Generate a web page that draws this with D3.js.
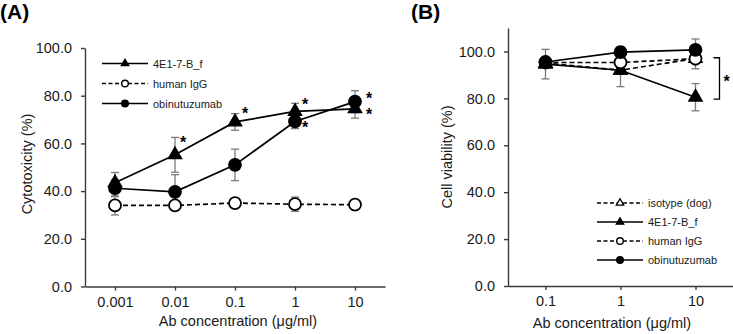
<!DOCTYPE html>
<html>
<head>
<meta charset="utf-8">
<script src="https://cdn.jsdelivr.net/npm/d3@7"></script>
<style>
  html, body { margin: 0; padding: 0; background: #fff; }
  svg { display: block; font-family: "Liberation Sans", Arial, sans-serif; }
</style>
</head>
<body>
<div id="chart"></div>
<script>
// ---------- data: panel A (cytotoxicity) ----------
const concA = ["0.001", "0.01", "0.1", "1", "10"];
const a4E1Mean = [43.5, 55.2, 69.0, 73.4, 74.5];
const a4E1Sd = [4.3, 7.3, 3.5, 3.4, 3.9];
const aHuIgGMean = [34.0, 34.0, 35.0, 34.5, 34.3];
const aHuIgGSd = [4.0, 1.0, 0.8, 3.0, 1.0];
const aObiMean = [41.2, 39.7, 51.0, 69.2, 77.5];
const aObiSd = [3.5, 7.2, 6.6, 3.0, 4.6];
const yTicksA = [0, 20, 40, 60, 80, 100];

// ---------- data: panel B (cell viability) ----------
const concB = ["0.1", "1", "10"];
const bIsoMean = [95.0, 92.0, 97.0];
const bIsoSd = [1.5, 1.5, 1.5];
const b4E1Mean = [94.6, 92.0, 80.5];
const b4E1Sd = [6.3, 7.0, 5.8];
const bHuIgGMean = [95.3, 95.3, 96.9];
const bHuIgGSd = [1.0, 1.2, 4.3];
const bObiMean = [95.5, 99.7, 100.7];
const bObiSd = [1.2, 2.4, 4.6];
const yTicksB = [0, 20, 40, 60, 80, 100];

// significance stars in panel A: series, concentration, pixel nudge
const starsA = [
  { series: "4E1-7-B_f", conc: "0.01", dx: 8, dy: -16 },
  { series: "4E1-7-B_f", conc: "0.1", dx: 10, dy: -12 },
  { series: "4E1-7-B_f", conc: "1", dx: 10, dy: -10 },
  { series: "obinutuzumab", conc: "1", dx: 10, dy: 3 },
  { series: "obinutuzumab", conc: "10", dx: 14, dy: -7 },
  { series: "4E1-7-B_f", conc: "10", dx: 14, dy: 2 }
];

const W = 733, H = 334;
const svg = d3.select("#chart").append("svg")
  .attr("width", W).attr("height", H);

function makeSeries(name, conc, mean, sd, marker, dashed) {
  return {
    name, marker, dashed,
    values: conc.map((c, i) => ({ conc: c, mean: mean[i], sd: sd[i] }))
  };
}

const seriesA = [
  makeSeries("4E1-7-B_f", concA, a4E1Mean, a4E1Sd, "triFilled", false),
  makeSeries("human IgG", concA, aHuIgGMean, aHuIgGSd, "circOpen", true),
  makeSeries("obinutuzumab", concA, aObiMean, aObiSd, "circFilled", false)
];

const seriesB = [
  makeSeries("isotype (dog)", concB, bIsoMean, bIsoSd, "triOpen", true),
  makeSeries("4E1-7-B_f", concB, b4E1Mean, b4E1Sd, "triFilled", false),
  makeSeries("human IgG", concB, bHuIgGMean, bHuIgGSd, "circOpen", true),
  makeSeries("obinutuzumab", concB, bObiMean, bObiSd, "circFilled", false)
];

// draw a marker into a group
function drawMarker(g, type, cx, cy, big) {
  const tri = d3.symbol().type(d3.symbolTriangle).size(big ? 78 : 24);
  const r = big ? 6 : 3.3;
  if (type.startsWith("tri")) {
    g.append("path")
      .attr("d", tri())
      .attr("transform", `translate(${cx},${cy})`)
      .attr("fill", type === "triOpen" ? "#fff" : "#000")
      .attr("stroke", "#000")
      .attr("stroke-width", 1.3);
  } else {
    g.append("circle")
      .attr("cx", cx).attr("cy", cy).attr("r", r)
      .attr("fill", type === "circOpen" ? "#fff" : "#000")
      .attr("stroke", "#000")
      .attr("stroke-width", big ? 1.8 : 1.4);
  }
}

function drawPanel(opt) {
  const g = svg.append("g");

  const x = d3.scalePoint()
    .domain(opt.conc)
    .range(opt.xRange)
    .padding(0.5);

  const y = d3.scaleLinear()
    .domain(opt.yDomain)
    .range(opt.yRange);

  // axes
  const xAxis = g.append("g")
    .attr("transform", `translate(0,${opt.yRange[0]})`)
    .call(d3.axisBottom(x).tickSize(4).tickSizeOuter(0).tickPadding(6));

  const yAxis = g.append("g")
    .attr("transform", `translate(${opt.xRange[0]},0)`)
    .call(d3.axisLeft(y).tickValues(opt.yTicks).tickFormat(d3.format(".1f"))
      .tickSize(4).tickSizeOuter(0).tickPadding(9));

  [xAxis, yAxis].forEach(a => {
    a.select(".domain").attr("stroke", "#3a3a3a").attr("stroke-width", 1.4);
    a.selectAll(".tick line").attr("stroke", "#3a3a3a").attr("stroke-width", 1.4);
    a.selectAll(".tick text")
      .attr("fill", "#1a1a1a")
      .style("font-size", "14.5px")
      .style("font-family", "'Liberation Sans', Arial, sans-serif");
  });

  // axis titles
  g.append("text")
    .attr("x", opt.xTitlePos[0]).attr("y", opt.xTitlePos[1])
    .attr("text-anchor", "middle")
    .style("font-size", "14.5px").attr("fill", "#1a1a1a")
    .text("Ab concentration (\u03bcg/ml)");

  g.append("text")
    .attr("transform", `translate(${opt.yTitlePos[0]},${opt.yTitlePos[1]}) rotate(-90)`)
    .attr("text-anchor", "middle")
    .style("font-size", "14.5px").attr("fill", "#1a1a1a")
    .text(opt.yTitle);

  // panel letter
  g.append("text")
    .attr("x", opt.letterPos[0]).attr("y", opt.letterPos[1])
    .style("font-size", "21px").style("font-weight", "bold")
    .attr("fill", "#000")
    .text(opt.letter);

  const line = d3.line().x(d => x(d.conc)).y(d => y(d.mean));

  // lines
  opt.series.forEach(s => {
    g.append("path")
      .datum(s.values)
      .attr("d", line)
      .attr("fill", "none")
      .attr("stroke", "#000")
      .attr("stroke-width", 1.7)
      .attr("stroke-dasharray", s.dashed ? "5,3" : null);
  });

  // error bars
  opt.series.forEach(s => {
    const eb = g.append("g").attr("stroke", "#7a7a7a").attr("stroke-width", 1.3);
    s.values.forEach(d => {
      const cx = x(d.conc);
      const y1 = y(d.mean + d.sd), y0 = y(d.mean - d.sd);
      eb.append("line").attr("x1", cx).attr("x2", cx).attr("y1", y1).attr("y2", y0);
      eb.append("line").attr("x1", cx - 4).attr("x2", cx + 4).attr("y1", y1).attr("y2", y1);
      eb.append("line").attr("x1", cx - 4).attr("x2", cx + 4).attr("y1", y0).attr("y2", y0);
    });
  });

  // markers
  opt.series.forEach(s => {
    const mg = g.append("g");
    s.values.forEach(d => drawMarker(mg, s.marker, x(d.conc), y(d.mean), true));
  });

  // legend
  const lg = g.append("g");
  opt.series.forEach((s, i) => {
    const ly = opt.legend.y0 + i * opt.legend.step;
    lg.append("line")
      .attr("x1", opt.legend.x0).attr("x2", opt.legend.x1)
      .attr("y1", ly).attr("y2", ly)
      .attr("stroke", "#000").attr("stroke-width", 1.5)
      .attr("stroke-dasharray", s.dashed ? "4,2.5" : null);
    drawMarker(lg, s.marker, (opt.legend.x0 + opt.legend.x1) / 2, ly, false);
    lg.append("text")
      .attr("x", opt.legend.x1 + 5).attr("y", ly + 4)
      .style("font-size", "11px").attr("fill", "#1a1a1a")
      .text(s.name);
  });

  return { g, x, y };
}

// ---------- panel A ----------
const pA = drawPanel({
  letter: "(A)", letterPos: [0, 19],
  conc: concA, series: seriesA,
  xRange: [85, 385], yRange: [286.5, 48], yDomain: [0, 100], yTicks: yTicksA,
  yTitle: "Cytotoxicity (%)", yTitlePos: [32, 164], xTitlePos: [238, 326],
  legend: { x0: 102, x1: 148, y0: 63.5, step: 20 }
});

starsA.forEach(st => {
  const s = seriesA.find(d => d.name === st.series);
  const v = s.values.find(d => d.conc === st.conc);
  pA.g.append("text")
    .attr("x", pA.x(st.conc) + st.dx)
    .attr("y", pA.y(v.mean) + st.dy + 9)
    .attr("text-anchor", "middle")
    .style("font-size", "16px").style("font-weight", "bold")
    .text("*");
});

// ---------- panel B ----------
const pB = drawPanel({
  letter: "(B)", letterPos: [411, 19],
  conc: concB, series: seriesB,
  xRange: [508, 733], yRange: [286, 28], yDomain: [0, 110], yTicks: yTicksB,
  yTitle: "Cell viability (%)", yTitlePos: [452, 157], xTitlePos: [612, 328],
  legend: { x0: 597, x1: 643, y0: 203, step: 19 }
});

// bracket between human IgG and 4E1-7-B_f at 10 ug/ml
const lastHu = seriesB[2].values[2], last4E1 = seriesB[1].values[2];
const bx = pB.x("10");
const yTop = pB.y(lastHu.mean) - 1, yBot = pB.y(last4E1.mean) + 2;
pB.g.append("path")
  .attr("d", `M${bx + 18},${yTop}H${bx + 24}V${yBot}H${bx + 18}`)
  .attr("fill", "none").attr("stroke", "#000").attr("stroke-width", 1.3);
pB.g.append("text")
  .attr("x", bx + 31).attr("y", (yTop + yBot) / 2 + 9)
  .attr("text-anchor", "middle")
  .style("font-size", "16px").style("font-weight", "bold")
  .text("*");
</script>
</body>
</html>
